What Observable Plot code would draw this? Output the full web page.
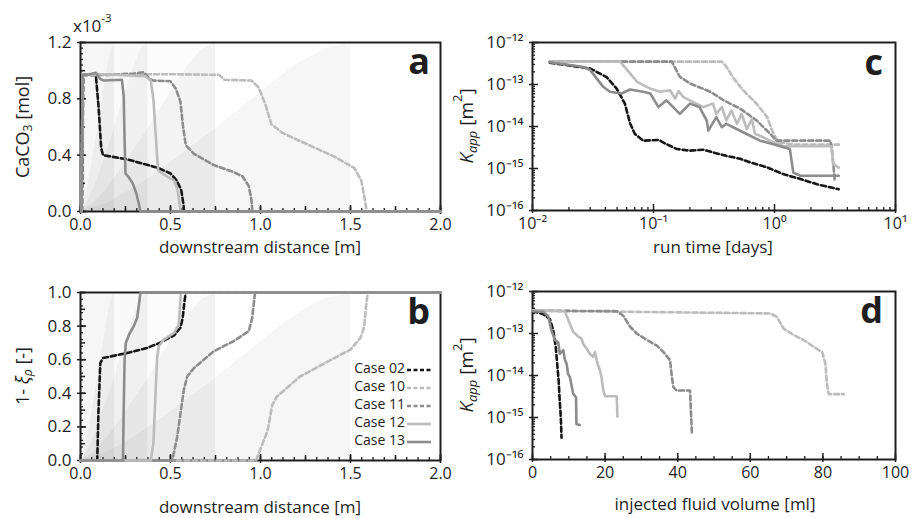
<!DOCTYPE html>
<html><head><meta charset="utf-8">
<script src="https://cdn.jsdelivr.net/npm/d3@7"></script>
<script src="https://cdn.jsdelivr.net/npm/@observablehq/plot@0.6"></script>
<style>
body{margin:0;background:#fff;}
#root{position:relative;width:913px;height:518px;font-family:"Open Sans",sans-serif;overflow:hidden;}
#root svg{position:absolute;overflow:visible;}
</style></head><body><div id="root"></div>
<script>
// ---------- categories / series ----------
const cases = ["Case 02", "Case 10", "Case 11", "Case 12", "Case 13"];

// panel a: CaCO3 [x10^-3 mol] vs downstream distance [m]
const caco3_02 = [[0.008,0],[0.015,0.97],[0.05,0.97],[0.085,0.97],[0.1,0.75],[0.115,0.45],[0.125,0.40],[0.26,0.37],[0.43,0.31],[0.5,0.27],[0.535,0.22],[0.56,0.15],[0.572,0.05],[0.575,0],[2.0,0]];
const caco3_10 = [[0.005,0],[0.012,0.97],[0.1,0.97],[0.3,0.975],[0.5,0.975],[0.77,0.97],[0.8,0.935],[0.95,0.93],[0.99,0.88],[1.03,0.75],[1.06,0.62],[1.12,0.56],[1.22,0.5],[1.41,0.39],[1.52,0.31],[1.56,0.22],[1.58,0.08],[1.59,0],[2.0,0]];
const caco3_11 = [[0.005,0],[0.012,0.97],[0.15,0.97],[0.3,0.98],[0.35,0.99],[0.37,0.96],[0.4,0.93],[0.5,0.925],[0.53,0.87],[0.555,0.78],[0.57,0.6],[0.585,0.47],[0.63,0.41],[0.74,0.33],[0.85,0.28],[0.9,0.25],[0.935,0.18],[0.95,0.08],[0.955,0],[2.0,0]];
const caco3_12 = [[0.005,0],[0.012,0.97],[0.1,0.975],[0.2,0.97],[0.36,0.96],[0.39,0.93],[0.405,0.8],[0.415,0.6],[0.425,0.4],[0.432,0.29],[0.46,0.265],[0.52,0.22],[0.54,0.15],[0.55,0.06],[0.556,0],[2.0,0]];
const caco3_13 = [[0.005,0],[0.012,0.97],[0.05,0.975],[0.085,0.985],[0.11,0.94],[0.13,0.93],[0.23,0.935],[0.24,0.82],[0.245,0.5],[0.25,0.27],[0.27,0.24],[0.29,0.2],[0.31,0.13],[0.325,0.05],[0.333,0],[2.0,0]];

// panel b: 1 - xi_rho [-] vs downstream distance [m]
const xi_02 = [[0,0],[0.093,0],[0.1,0.3],[0.11,0.58],[0.125,0.61],[0.26,0.64],[0.37,0.67],[0.44,0.70],[0.52,0.745],[0.555,0.79],[0.568,0.85],[0.578,0.95],[0.585,1.0],[2.0,1.0]];
const xi_10 = [[0,0],[0.975,0],[0.99,0.04],[1.04,0.18],[1.065,0.33],[1.09,0.38],[1.22,0.5],[1.41,0.61],[1.5,0.66],[1.555,0.73],[1.575,0.79],[1.585,0.9],[1.595,1.0],[2.0,1.0]];
const xi_11 = [[0,0],[0.51,0],[0.537,0.14],[0.574,0.42],[0.593,0.5],[0.63,0.55],[0.74,0.65],[0.85,0.71],[0.935,0.77],[0.954,0.85],[0.962,0.93],[0.97,1.0],[2.0,1.0]];
const xi_12 = [[0,0],[0.39,0],[0.405,0.1],[0.415,0.35],[0.425,0.6],[0.435,0.68],[0.463,0.72],[0.52,0.76],[0.546,0.81],[0.552,0.9],[0.558,1.0],[2.0,1.0]];
const xi_13 = [[0,0],[0.236,0],[0.24,0.3],[0.245,0.6],[0.252,0.7],[0.27,0.75],[0.296,0.8],[0.315,0.85],[0.325,0.93],[0.333,1.0],[2.0,1.0]];

// panel c: K_app [m^2] vs run time [days]
const kt_02 = [[0.0139,3.3e-13],[0.019,2.9e-13],[0.03,2.4e-13],[0.041,1.5e-13],[0.0496,8e-14],[0.058,3.5e-14],[0.064,1.2e-14],[0.07,6.7e-15],[0.082,4.6e-15],[0.11,4.8e-15],[0.128,3.8e-15],[0.156,2.9e-15],[0.2,2.66e-15],[0.259,2.8e-15],[0.33,2.3e-15],[0.4,2.0e-15],[0.52,1.7e-15],[0.63,1.4e-15],[0.87,1.06e-15],[1.19,7.3e-16],[1.64,5.6e-16],[2.25,4.2e-16],[3.4,3.2e-16]];
const kt_10 = [[0.0139,3.5e-13],[0.367,3.5e-13],[0.40,2.65e-13],[0.46,1.4e-13],[0.55,7.3e-14],[0.71,3.5e-14],[0.87,1.67e-14],[0.98,6.7e-15],[1.08,4.2e-15],[1.5,3.7e-15],[3.4,3.7e-15]];
const kt_11 = [[0.0139,3.5e-13],[0.1417,3.5e-13],[0.165,1.53e-13],[0.2,1.06e-13],[0.295,6.7e-14],[0.38,4.2e-14],[0.52,2.66e-14],[0.71,1.4e-14],[0.92,6.7e-15],[1.04,4.6e-15],[2.9,4.6e-15],[3.0,2.5e-15],[3.15,5e-16]];
const kt_12 = [[0.0139,3.5e-13],[0.0529,3.5e-13],[0.064,1.84e-13],[0.073,1.16e-13],[0.094,8e-14],[0.113,6.7e-14],[0.137,7.3e-14],[0.151,4.6e-14],[0.161,7e-14],[0.177,5e-14],[0.213,3.8e-14],[0.259,2.9e-14],[0.31,3.5e-14],[0.33,2.0e-14],[0.367,2.9e-14],[0.40,1.4e-14],[0.44,2.4e-14],[0.49,1.16e-14],[0.535,2.0e-14],[0.59,8.7e-15],[0.65,1.5e-14],[0.69,6.7e-15],[0.81,5.5e-15],[0.98,4.2e-15],[1.19,3.4e-15],[2.95,3.4e-15],[3.05,1.3e-15],[3.4,1.05e-15]];
const kt_13 = [[0.0139,3.4e-13],[0.026,2.65e-13],[0.03,2.2e-13],[0.0384,8.8e-14],[0.0436,6.7e-14],[0.0544,6.1e-14],[0.064,7.6e-14],[0.082,6.7e-14],[0.094,6.1e-14],[0.11,2.9e-14],[0.128,4.2e-14],[0.165,2.0e-14],[0.2,3.5e-14],[0.24,2.9e-14],[0.275,1.4e-14],[0.284,8e-15],[0.33,1.67e-14],[0.367,9.6e-15],[0.4,1.16e-14],[0.55,7.3e-15],[0.76,4.6e-15],[0.98,3.8e-15],[1.19,3.2e-15],[1.34,2.9e-15],[1.43,8e-16],[1.64,6.7e-16],[3.4,6.7e-16]];

// panel d: K_app [m^2] vs injected fluid volume [ml]
const kv_02 = [[0,3.4e-13],[2.9,2.9e-13],[4.8,2.2e-13],[5.7,1.2e-13],[6.4,4.8e-14],[6.8,1.9e-14],[7.2,7.6e-15],[7.5,2.5e-15],[7.8,1.0e-15],[8.0,3.3e-16]];
const kv_10 = [[0,3.5e-13],[65.5,3.0e-13],[67.3,2.5e-13],[69.2,1.3e-13],[72,9.2e-14],[74.7,7e-14],[77.5,4.8e-14],[79.8,3.6e-14],[80.7,1.9e-14],[81.1,6.3e-15],[81.6,3.6e-15],[85.7,3.6e-15]];
const kv_11 = [[0,3.5e-13],[23.2,3.4e-13],[25,2.65e-13],[26.9,1.45e-13],[28.7,1.0e-13],[31.5,7e-14],[34.2,5.2e-14],[36.1,3.6e-14],[37.9,2.3e-14],[38.4,9.2e-15],[38.8,5.3e-15],[39.7,4.4e-15],[43.4,4.4e-15],[43.6,1.7e-15],[43.9,4.4e-16]];
const kv_12 = [[0,3.5e-13],[8.9,3.4e-13],[10.3,1.7e-13],[11.2,1.1e-13],[12.6,8.4e-14],[13.5,7.6e-14],[14,5.5e-14],[14.9,4.4e-14],[15.8,3.3e-14],[16.7,2.8e-14],[17.2,3.6e-14],[17.7,2.3e-14],[18.1,1.7e-14],[18.6,1.3e-14],[19,9.2e-15],[19.5,4.4e-15],[20,3.2e-15],[23.2,3.2e-15],[23.4,1.05e-15]];
const kv_13 = [[0,3.4e-13],[2.9,3.3e-13],[4.3,2.65e-13],[5.2,1.2e-13],[6.2,7e-14],[7.1,6.1e-14],[7.5,3.3e-14],[8.5,4.0e-14],[8.9,2.4e-14],[9.4,1.9e-14],[9.8,1.1e-14],[10.3,9.2e-15],[11.2,3.7e-15],[12.0,3.0e-15],[12.1,7e-16],[13.0,6.6e-16]];

// background shading (panels a, b): extents [m] and shape profile
const shadeEnds = [0.19, 0.375, 0.75, 1.5];
const shadeT = [0, 0.1, 0.2, 0.3, 0.4, 0.5, 0.6, 0.7, 0.8, 0.9, 1.0];
const shadeF = [0, 0.05, 0.14, 0.25, 0.37, 0.49, 0.62, 0.75, 0.87, 0.96, 1.0];

// tick values
const distTicks = [0, 0.5, 1.0, 1.5, 2.0];
const caTicks = [0, 0.4, 0.8, 1.2];
const xiTicks = [0, 0.2, 0.4, 0.6, 0.8, 1.0];
const timeTicks = [1e-2, 1e-1, 1e0, 1e1];
const kTicks = [1e-16, 1e-15, 1e-14, 1e-13, 1e-12];
const volTicks = [0, 20, 40, 60, 80, 100];

// ---------- styles ----------
const caseColor = ["#161616", "#bcbcbc", "#8c8c8c", "#bcbcbc", "#8c8c8c"];
const caseDash = ["5,3", "5,3", "5,3", null, null];
const FONT = "Open Sans";
const INK = "#1e1e1e";

const sup = s => s.replace(/[-0-9]/g, c => "⁻⁰¹²³⁴⁵⁶⁷⁸⁹"["-0123456789".indexOf(c)]);
const fmtPow = d => "10" + sup(String(Math.round(Math.log10(d))));
const fmt1 = d3.format(".1f");
const range = (a, b, s) => d3.range(Math.round((b - a) / s) + 1).map(i => +(a + i * s).toFixed(6));
const logMinor = (e0, e1) => d3.range(e0, e1).flatMap(e => [2,3,4,5,6,7,8,9].map(m => m * Math.pow(10, e)));

function xAxes(major, medium, minor, fmt) {
  return [
    Plot.axisX({ticks: minor, tickSize: -3, tickFormat: () => "", label: null, strokeWidth: 1.3, color: INK}),
    Plot.axisX({ticks: medium, tickSize: -5, tickFormat: () => "", label: null, strokeWidth: 1.5, color: INK}),
    Plot.axisX({ticks: major, tickSize: -6, tickFormat: () => "", label: null, strokeWidth: 1.5, color: INK}),
    Plot.axisX({ticks: major, tickSize: 3, tickPadding: 4, tickFormat: fmt, label: null, fontSize: 16, strokeWidth: 1.5, color: INK})
  ];
}
function yAxes(major, medium, minor, fmt) {
  return [
    Plot.axisY({ticks: minor, tickSize: -3, tickFormat: () => "", label: null, strokeWidth: 1.3, color: INK}),
    Plot.axisY({ticks: medium, tickSize: -5, tickFormat: () => "", label: null, strokeWidth: 1.5, color: INK}),
    Plot.axisY({ticks: major, tickSize: -6, tickFormat: () => "", label: null, strokeWidth: 1.5, color: INK}),
    Plot.axisY({ticks: major, tickSize: 3, tickPadding: 6, tickFormat: fmt, label: null, fontSize: 17, strokeWidth: 1.5, color: INK})
  ];
}
function caseLines(series) {
  return series.map((s, i) => Plot.line(s, {
    x: d => d[0], y: d => d[1], stroke: caseColor[i], strokeWidth: 2.6,
    strokeDasharray: caseDash[i], strokeLinejoin: "round"
  }));
}
function shading(top) {
  const pts = shadeEnds.flatMap(L => shadeT.map((t, i) => ({L, x: t * L, y: shadeF[i] * top})));
  return [
    Plot.rect(shadeEnds.slice(0, 3), {x1: () => 0, x2: d => d, y1: () => 0, y2: () => top, fill: "#000", fillOpacity: 0.012}),
    Plot.areaY(pts, {x: "x", y1: () => 0, y2: "y", z: "L", fill: "#000", fillOpacity: 0.035})
  ];
}

const root = document.getElementById("root");
function panel(opts, left, top) {
  const svg = Plot.plot({
    width: opts.width, height: opts.height,
    marginLeft: opts.ml, marginRight: opts.mr, marginTop: opts.mt, marginBottom: opts.mb,
    x: opts.x, y: opts.y,
    style: {fontFamily: FONT, fontSize: "17px", color: INK, background: "transparent"},
    marks: opts.marks
  });
  svg.style.left = left + "px";
  svg.style.top = top + "px";
  root.appendChild(svg);
  return d3.select(svg);
}
function addText(sel, x, y, parts, {rotate = false, size = 18, anchor = "middle", weight = null} = {}) {
  const t = sel.append("text")
    .attr("transform", `translate(${x},${y})` + (rotate ? " rotate(-90)" : ""))
    .attr("text-anchor", anchor).attr("dominant-baseline", "middle")
    .attr("font-family", FONT).attr("font-size", size).attr("fill", INK);
  if (weight) t.attr("font-weight", weight);
  let shift = 0;
  for (const p of parts) {
    const [txt, o] = typeof p === "string" ? [p, {}] : p;
    const want = o.sub ? 0.3 * size : o.sup ? -0.45 * size : 0;
    const ts = t.append("tspan").text(txt).attr("dy", want - shift);
    shift = want;
    if (o.sub || o.sup) ts.attr("font-size", size * 0.68);
    if (o.italic) ts.attr("font-style", "italic");
  }
  return t;
}

// ---------- panel a ----------
const pa = panel({
  width: 460, height: 259, ml: 80, mr: 20, mt: 42, mb: 48,
  x: {domain: [0, 2]}, y: {domain: [0, 1.2]},
  marks: [
    ...shading(1.2),
    Plot.frame({stroke: INK, strokeWidth: 2}),
    ...xAxes(distTicks, range(0, 2, 0.25), range(0, 2, 0.0625), fmt1),
    ...yAxes(caTicks, range(0, 1.2, 0.2), range(0, 1.2, 0.04), fmt1),
    ...caseLines([caco3_02, caco3_10, caco3_11, caco3_12, caco3_13])
  ]
}, 0, 0);
addText(pa, 260, 248, ["downstream distance [m]"], {size: 17});
addText(pa, 24, 127, ["CaCO", ["3", {sub: true}], " [mol]"], {rotate: true});
addText(pa, 73, 27, ["x10", ["-3", {sup: true}]], {anchor: "start", size: 17});
addText(pa, 430, 64, ["a"], {anchor: "end", size: 36, weight: "bold"});

// ---------- panel b ----------
const pb = panel({
  width: 460, height: 259, ml: 80, mr: 20, mt: 33, mb: 58,
  x: {domain: [0, 2]}, y: {domain: [0, 1]},
  marks: [
    ...shading(1.0),
    Plot.frame({stroke: INK, strokeWidth: 2}),
    ...xAxes(distTicks, range(0, 2, 0.25), range(0, 2, 0.0625), fmt1),
    ...yAxes(xiTicks, range(0, 1, 0.1), range(0, 1, 0.04), fmt1),
    ...caseLines([xi_02, xi_10, xi_11, xi_12, xi_13])
  ]
}, 0, 259);
addText(pb, 260, 249, ["downstream distance [m]"], {size: 17});
addText(pb, 24, 117, ["1- ", ["ξ", {italic: true}], ["ρ", {sub: true, italic: true}], " [-]"], {rotate: true});
addText(pb, 430, 55, ["b"], {anchor: "end", size: 36, weight: "bold"});
// legend
const lg = pb.append("g");
cases.forEach((c, i) => {
  const y = 110 + i * 18;
  lg.append("text").attr("x", 405).attr("y", y).attr("text-anchor", "end").attr("dominant-baseline", "middle")
    .attr("font-family", FONT).attr("font-size", 14).attr("fill", INK).text(c);
  lg.append("line").attr("x1", 407).attr("x2", 431).attr("y1", y + 1).attr("y2", y + 1)
    .attr("stroke", caseColor[i]).attr("stroke-width", 2.6).attr("stroke-dasharray", caseDash[i] ? "4,2.5" : null);
});

// ---------- panel c ----------
const pc = panel({
  width: 463, height: 259, ml: 82, mr: 18, mt: 42, mb: 49,
  x: {type: "log", domain: [1e-2, 10]}, y: {type: "log", domain: [1e-16, 1e-12]},
  marks: [
    Plot.frame({stroke: INK, strokeWidth: 2}),
    ...xAxes(timeTicks, [], logMinor(-2, 1), fmtPow),
    ...yAxes(kTicks, [], logMinor(-16, -12), fmtPow),
    ...caseLines([kt_02, kt_10, kt_11, kt_12, kt_13])
  ]
}, 450, 0);
addText(pc, 263, 248, ["run time [days]"], {size: 17});
addText(pc, 18, 126, [["K", {italic: true}], ["app", {sub: true, italic: true}], " [m", ["2", {sup: true}], "]"], {rotate: true, size: 19});
addText(pc, 433, 65, ["c"], {anchor: "end", size: 36, weight: "bold"});

// ---------- panel d ----------
const pd = panel({
  width: 463, height: 259, ml: 82, mr: 18, mt: 32, mb: 59,
  x: {domain: [0, 100]}, y: {type: "log", domain: [1e-16, 1e-12]},
  marks: [
    Plot.frame({stroke: INK, strokeWidth: 2}),
    ...xAxes(volTicks, [], range(0, 100, 5), d => String(d)),
    ...yAxes(kTicks, [], logMinor(-16, -12), fmtPow),
    ...caseLines([kv_02, kv_10, kv_11, kv_12, kv_13])
  ]
}, 450, 259);
addText(pd, 265, 246, ["injected fluid volume [ml]"], {size: 17});
addText(pd, 18, 116, [["K", {italic: true}], ["app", {sub: true, italic: true}], " [m", ["2", {sup: true}], "]"], {rotate: true, size: 19});
addText(pd, 433, 54, ["d"], {anchor: "end", size: 36, weight: "bold"});
</script>
</body></html>
